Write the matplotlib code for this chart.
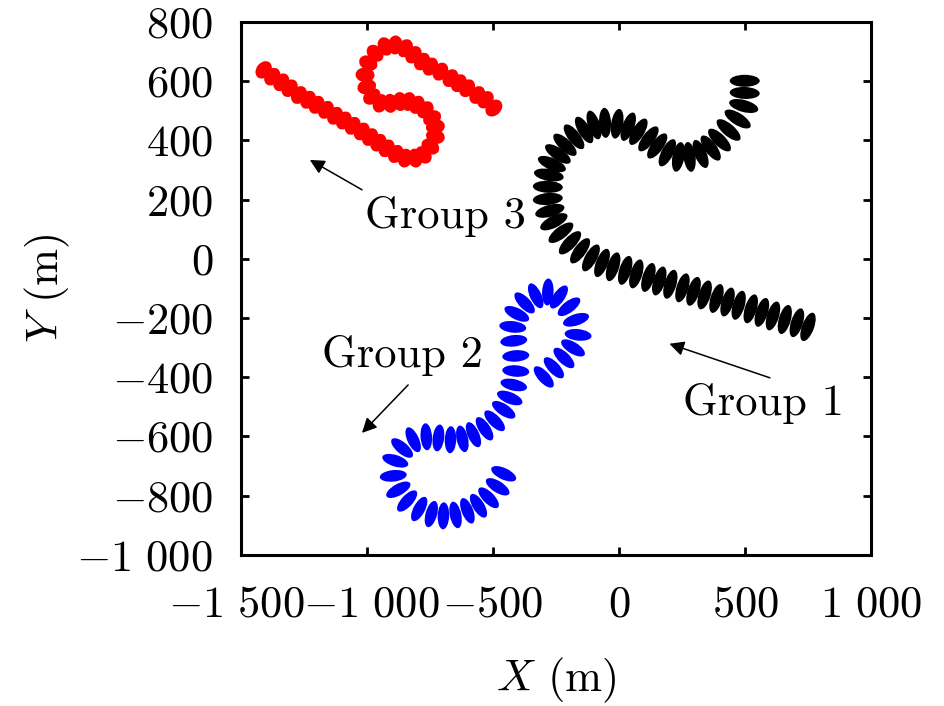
import numpy as np
import matplotlib
matplotlib.use('Agg')
import matplotlib.pyplot as plt
from matplotlib.collections import EllipseCollection
from matplotlib.transforms import ScaledTranslation

plt.rcParams['font.family'] = 'serif'
plt.rcParams['font.serif'] = ['cmr10']
plt.rcParams['mathtext.fontset'] = 'cm'
plt.rcParams['axes.formatter.use_mathtext'] = True

# group 1 (black)
g1_x = [498, 498, 494, 470, 434, 398, 363, 323, 279, 235, 191, 151, 116, 76, 36, -8, -56,
        -100, -139, -179, -215, -243, -267, -279, -283, -283, -275, -259, -231, -195, -155,
        -112, -68, -24, 24, 68, 116, 159, 203, 251, 295, 339, 386, 430, 474, 522, 566, 610,
        657, 705, 749]
g1_y = [601, 560, 516, 472, 435, 401, 374, 354, 344, 344, 358, 381, 405, 429, 446, 456, 459,
        452, 435, 412, 385, 354, 320, 283, 243, 202, 162, 125, 88, 54, 27,
        3, -14, -27, -39, -51, -63, -75, -86, -98, -110, -122, -134, -146, -157, -169, -181, -193,
        -205, -216, -230]

# group 2 (blue)
g2_x = [-299, -259, -219, -183, -163, -171, -199, -239, -283, -331, -375, -406, -422, -418,
        -410, -410, -418, -434, -458, -494, -534, -578, -622, -669, -717, -765, -817, -861,
        -888, -896, -876, -841, -793, -745, -697, -649, -602, -558, -518, -482, -458]
g2_y = [-399, -368, -335, -301, -257, -206, -162, -129, -112, -125, -149, -186, -230, -277,
        -328, -379, -426, -470, -510, -547, -574, -594, -608, -611, -605, -601, -611, -639,
        -682, -733, -780, -818, -845, -862, -868, -865, -851, -834, -807, -770, -726]

# group 3 (red)
g3_x = [-1410, -1376, -1340, -1307, -1270, -1234, -1200, -1163, -1127, -1092, -1057, -1021,
        -988, -955, -922, -886, -849, -809, -776, -749, -729, -729, -742, -769, -802, -835,
        -869, -908, -948, -981, -1001, -1008, -995, -968, -928, -888, -849, -816, -782, -749,
        -709, -669, -636, -603, -563, -530, -497]
g3_y = [638, 615, 596, 576, 553, 537, 520, 503, 483, 467, 449, 430,
        411, 392, 373, 354, 340, 340, 351, 379, 413, 446, 475, 503, 520, 531,
        531, 525, 525, 548, 581, 621, 661, 694, 717, 722, 711, 689, 666, 649,
        632, 610, 593, 576, 553, 537, 509]

xticks = [-1500, -1000, -500, 0, 500, 1000]
xtick_labels = [r'$-1\ 500$', r'$-1\ 000$', r'$-500$', r'$0$', r'$500$', r'$1\ 000$']
yticks = [-1000, -800, -600, -400, -200, 0, 200, 400, 600, 800]
ytick_labels = [r'$-1\ 000$', r'$-800$', r'$-600$', r'$-400$', r'$-200$', r'$0$',
                r'$200$', r'$400$', r'$600$', r'$800$']

fig = plt.figure(figsize=(9.45, 7.06), dpi=100)
ax = fig.add_axes([0.255, 0.214, 0.667, 0.755])
ax.set_xlim(-1500, 1000)
ax.set_ylim(-1000, 800)


def draw_group(xs, ys, color, length, thick):
    xy = np.column_stack([xs, ys]).astype(float)
    pts = ax.transData.transform(xy)
    d = np.gradient(pts, axis=0)
    ang = np.degrees(np.arctan2(d[:, 1], d[:, 0])) + 90
    n = len(xs)
    ec = EllipseCollection(np.full(n, length), np.full(n, thick), ang, units='dots',
                           offsets=xy, offset_transform=ax.transData,
                           facecolors=color, edgecolors='none')
    ax.add_collection(ec)


draw_group(g1_x, g1_y, 'black', 30, 12)
draw_group(g2_x, g2_y, 'blue', 27, 11.5)
draw_group(g3_x, g3_y, 'red', 19, 14.5)

arr = dict(arrowstyle='-|>', color='k', lw=1.1, mutation_scale=22, shrinkA=0, shrinkB=0)
ax.annotate('', xy=(-1227, 334), xytext=(-1020, 233), arrowprops=arr)
ax.annotate('', xy=(-1020, -588), xytext=(-837, -426), arrowprops=arr)
ax.annotate('', xy=(199, -287), xytext=(598, -402), arrowprops=arr)

fs = 32
ax.text(-689, 104, 'Group 3', fontsize=fs, ha='center', va='baseline')
ax.text(-861, -365, 'Group 2', fontsize=fs, ha='center', va='baseline')
ax.text(574, -527, 'Group 1', fontsize=fs, ha='center', va='baseline')

ax.set_xticks(xticks)
ax.set_xticklabels(xtick_labels)
ax.set_yticks(yticks)
ax.set_yticklabels(ytick_labels)
ax.tick_params(direction='in', length=6, width=2, top=True, right=True, labelsize=fs)
ax.tick_params(axis='x', pad=22)
ax.tick_params(axis='y', pad=20)
for s in ax.spines.values():
    s.set_linewidth(2.2)

# the two leftmost x labels crowd each other, nudge them apart a little
xl = ax.get_xticklabels()
xl[0].set_transform(xl[0].get_transform() + ScaledTranslation(-3/72, 0, fig.dpi_scale_trans))
xl[1].set_transform(xl[1].get_transform() + ScaledTranslation(3/72, 0, fig.dpi_scale_trans))

ax.set_xlabel(r'$X$ (m)', fontsize=fs)
ax.set_ylabel(r'$Y$ (m)', fontsize=fs)
ax.xaxis.set_label_coords(0.5, -0.19)
ax.yaxis.set_label_coords(-0.268, 0.5)

fig.savefig('out.png', dpi=100)
